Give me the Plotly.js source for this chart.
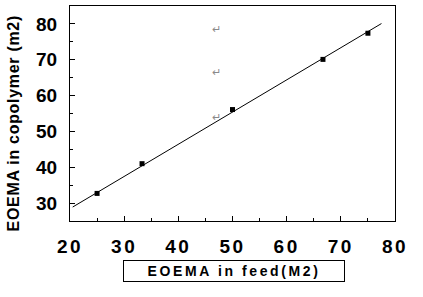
<!DOCTYPE html>
<html><head><meta charset="utf-8">
<script src="https://cdn.plot.ly/plotly-3.0.1.min.js"></script>
<style>
html,body{margin:0;padding:0;background:#fff;}
#chart{width:423px;height:297px;}
.xtick text{letter-spacing:2.5px;}
.xtitlebox .annotation-text{letter-spacing:2.6px;}
.ytitlebox .annotation-text{letter-spacing:0.7px;}
</style></head><body><div id="chart"></div>
<script>
// Measured points: EOEMA in feed (M2) vs EOEMA in copolymer (m2)
const feedM2 = [25, 33.3, 50, 66.7, 75];
const copolymerM2 = [32.7, 41.0, 56.1, 70.1, 77.4];
// Linear fit line endpoints
const fitX = [20.5, 77.5];
const fitY = [28.9, 80.1];
// Stray paragraph marks in the original figure
const markX = [47.1, 47.1, 47.1];
const markY = [78.7, 66.7, 54.1];
const xTickVals = [20, 30, 40, 50, 60, 70, 80];
const xTickText = ['20', '30', '40', '50', '60', '70', '80'];
const yTickVals = [30, 40, 50, 60, 70, 80];
const yTickText = ['30', '40', '50', '60', '70', '80'];
const xTitle = 'EOEMA in feed(M2)';
const yTitle = 'EOEMA in copolymer (m2)';

const FONT = 'Liberation Sans, Arial, sans-serif';

const traces = [
  {x: fitX, y: fitY, type: 'scatter', mode: 'lines',
   line: {color: '#000', width: 1}, hoverinfo: 'skip', showlegend: false},
  {x: feedM2, y: copolymerM2, type: 'scatter', mode: 'markers',
   marker: {symbol: 'square', size: 5, color: '#000'}, showlegend: false}
];

const annotations = markX.map((x, i) => ({
  x: x, y: markY[i], xref: 'x', yref: 'y', text: '\u21B5', showarrow: false,
  font: {family: FONT, size: 11, color: '#8a8a8a'}
}));
annotations.push({
  x: -0.1754, y: 0.454, xref: 'paper', yref: 'paper', text: yTitle, textangle: -90,
  showarrow: false, font: {family: FONT, size: 16, color: '#000', weight: 'bold'},
  xanchor: 'center', yanchor: 'middle', captureevents: false
});
annotations.push({
  x: 0.5046, y: -0.2326, xref: 'paper', yref: 'paper', text: xTitle,
  showarrow: false, font: {family: FONT, size: 14, color: '#000', weight: 'bold'},
  xanchor: 'center', yanchor: 'middle', bordercolor: '#000', borderwidth: 1,
  borderpad: 1, width: 218, height: 18, bgcolor: '#fff'
});

const axisCommon = {
  showline: true, mirror: true, linecolor: '#000', linewidth: 1,
  ticks: 'inside', ticklen: 5, tickwidth: 1, tickcolor: '#000',
  showgrid: false, zeroline: false, tickmode: 'array',
  tickfont: {family: FONT, size: 19, color: '#000', weight: 'bold'}
};

const layout = {
  width: 423, height: 297,
  margin: {l: 70, r: 28, t: 6, b: 76},
  paper_bgcolor: '#fff', plot_bgcolor: '#fff',
  xaxis: Object.assign({}, axisCommon, {
    range: [20, 80], tickvals: xTickVals, ticktext: xTickText, ticklabelstandoff: 8,
    minor: {tickmode: 'linear', tick0: 20, dtick: 5, ticks: 'inside', ticklen: 3, tickcolor: '#000'}
  }),
  yaxis: Object.assign({}, axisCommon, {
    range: [25, 85], tickvals: yTickVals, ticktext: yTickText, ticklabelstandoff: 8,
    minor: {tickmode: 'linear', tick0: 25, dtick: 5, ticks: 'inside', ticklen: 3, tickcolor: '#000'}
  }),
  annotations: annotations,
  showlegend: false
};

Plotly.newPlot('chart', traces, layout, {staticPlot: true}).then(() => {
  const anns = document.querySelectorAll('.annotation');
  const n = anns.length;
  if (n >= 2) {
    anns[n - 2].classList.add('ytitlebox');
    anns[n - 1].classList.add('xtitlebox');
  }
});
</script></body></html>
